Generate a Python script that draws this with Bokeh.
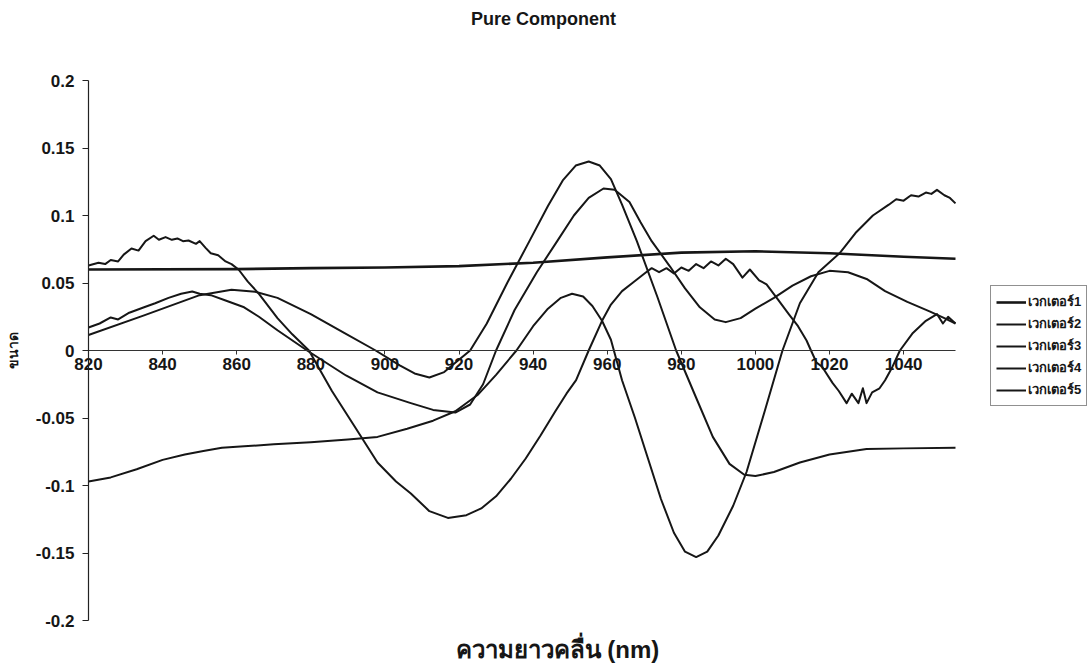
from bokeh.plotting import figure
from bokeh.models import FixedTicker, CustomJSTickFormatter, Label, Legend, LegendItem, Range1d
from bokeh.embed import file_html
from bokeh.resources import INLINE

title_text = "Pure Component"
x_title = "ความยาวคลื่น (nm)"
y_title = "ขนาด"
series_names = ["เวกเตอร์1", "เวกเตอร์2", "เวกเตอร์3", "เวกเตอร์4", "เวกเตอร์5"]
x_ticks = [820, 840, 860, 880, 900, 920, 940, 960, 980, 1000, 1020, 1040]
y_ticks = [-0.2, -0.15, -0.1, -0.05, 0.0, 0.05, 0.1, 0.15, 0.2]
x_min, x_max = 820, 1054
y_min, y_max = -0.2, 0.2

# (wavelength nm, value)
vec1 = [(820, 0.060), (860, 0.0603), (880, 0.061), (900, 0.0615), (920, 0.0625), (940, 0.065),
        (960, 0.069), (980, 0.0725), (1000, 0.0735), (1020, 0.072), (1040, 0.0695), (1054, 0.068)]

vec2 = [(820, 0.063), (822.7, 0.065), (824.5, 0.064), (826, 0.067), (828, 0.066), (829.5, 0.071),
        (831.6, 0.0755), (833.5, 0.074), (835.4, 0.081), (837.6, 0.085), (839, 0.082), (840.8, 0.084),
        (842.5, 0.082), (844, 0.083), (845.5, 0.081), (847, 0.0815), (849, 0.079), (850, 0.081),
        (851.6, 0.076), (853, 0.072), (855, 0.0705), (857, 0.066), (858.6, 0.064), (860.5, 0.060),
        (863, 0.051), (866, 0.042), (871, 0.024), (875, 0.012), (879.5, 0.0), (885.7, -0.030),
        (892, -0.057), (898, -0.083), (903, -0.097), (907, -0.106), (912, -0.119), (917, -0.124),
        (922, -0.122), (926, -0.117), (930, -0.108), (934, -0.095), (938, -0.080), (942, -0.063),
        (946, -0.045), (949, -0.032), (951.6, -0.022), (955, 0.0), (958.6, 0.022), (961, 0.034),
        (964, 0.044), (966.8, 0.050), (970.5, 0.058), (972, 0.061), (974, 0.058), (976, 0.061),
        (978, 0.057), (980, 0.0615), (982, 0.059), (984, 0.064), (986, 0.061), (988, 0.066),
        (990, 0.063), (992, 0.068), (994, 0.064), (996.5, 0.054), (998.5, 0.060), (1001, 0.052),
        (1003, 0.049), (1006, 0.038), (1009, 0.027), (1011.5, 0.018), (1013.8, 0.0074), (1015, 0.0),
        (1016.5, -0.009), (1018, -0.012), (1020.8, -0.024), (1022.5, -0.030), (1024.6, -0.039),
        (1026, -0.032), (1027.8, -0.039), (1029, -0.028), (1030, -0.039), (1031.5, -0.031),
        (1033.5, -0.028), (1035, -0.022), (1037, -0.012), (1039, 0.0), (1042.5, 0.013), (1046, 0.022),
        (1049, 0.027), (1050.6, 0.020), (1052, 0.025), (1054, 0.020)]

vec3 = [(820, 0.0115), (835, 0.026), (850, 0.041), (858.6, 0.045), (865, 0.0435), (871, 0.039),
        (880, 0.027), (889, 0.013), (897.5, 0.0), (904, -0.011), (908, -0.017), (912, -0.020),
        (916, -0.016), (919, -0.009), (923, 0.0), (927.5, 0.020), (933, 0.050), (939, 0.081),
        (944, 0.107), (948, 0.126), (951.5, 0.137), (955, 0.140), (958, 0.137), (961, 0.127),
        (964, 0.108), (968, 0.081), (973.5, 0.040), (978.6, 0.0), (984, -0.035), (988.5, -0.064),
        (993, -0.084), (997, -0.092), (1000, -0.093), (1005, -0.090), (1012, -0.083), (1020, -0.077),
        (1030, -0.073), (1040, -0.0725), (1054, -0.072)]

vec4 = [(820, 0.017), (823, 0.020), (826, 0.0245), (828, 0.023), (831, 0.028), (835, 0.032),
        (838, 0.035), (841.6, 0.039), (845, 0.042), (848, 0.0437), (850, 0.042), (853, 0.041),
        (857, 0.037), (862, 0.032), (866, 0.025), (871, 0.015), (879, 0.0), (889.5, -0.0185),
        (898, -0.031), (907, -0.039), (913, -0.044), (919, -0.046), (923, -0.040), (926.5, -0.025),
        (930, 0.0), (935, 0.030), (941, 0.058), (946.5, 0.081), (951, 0.100), (955, 0.113),
        (959, 0.120), (962, 0.119), (966, 0.110), (969, 0.095), (972, 0.081), (977, 0.062),
        (981, 0.046), (985, 0.032), (989, 0.023), (992, 0.021), (996, 0.024), (1000, 0.031),
        (1005, 0.039), (1010, 0.048), (1015, 0.055), (1020, 0.059), (1025, 0.058), (1030, 0.053),
        (1035, 0.044), (1041, 0.036), (1047, 0.029), (1051, 0.024), (1054, 0.020)]

vec5 = [(820, -0.097), (826, -0.094), (833, -0.088), (840, -0.081), (846, -0.077), (851, -0.0745),
        (856, -0.072), (862, -0.071), (870, -0.0695), (880, -0.068), (890, -0.066), (898, -0.064),
        (906, -0.058), (913, -0.052), (919, -0.045), (925, -0.033), (930, -0.018), (935.5, 0.0),
        (940, 0.018), (944, 0.031), (947.5, 0.039), (950.5, 0.042), (953.5, 0.040), (956, 0.033),
        (958.6, 0.022), (961, 0.008), (964, -0.022), (967.5, -0.050), (971, -0.080), (974.5, -0.110),
        (978, -0.135), (981, -0.149), (984, -0.153), (987, -0.149), (990, -0.137), (994, -0.115),
        (997.6, -0.090), (1002.5, -0.045), (1007.3, 0.0), (1012, 0.035), (1017, 0.058), (1022.7, 0.072),
        (1027, 0.087), (1031.7, 0.100), (1036, 0.108), (1038, 0.112), (1040, 0.111), (1042, 0.115),
        (1044, 0.114), (1046, 0.117), (1047.5, 0.116), (1049, 0.119), (1051, 0.115), (1052.5, 0.113),
        (1054, 0.109)]

all_series = [vec1, vec2, vec3, vec4, vec5]
widths = [2.6, 2.0, 2.0, 2.0, 2.0]

FONT = "Liberation Sans"
INK = "#161616"

W, H = 1091, 667
# pixel box of the plot area inside the page
PX_L, PX_R, PX_T, PX_B = 88, 955, 80, 620
sx = (PX_R - PX_L) / (x_max - x_min)
sy = (PX_B - PX_T) / (y_max - y_min)
xr = Range1d(x_min - PX_L / sx, x_max + (W - PX_R) / sx)
yr = Range1d(y_min - (H - PX_B) / sy, y_max + PX_T / sy)

p = figure(width=W, height=H, output_backend="svg", toolbar_location=None,
           x_range=xr, y_range=yr,
           min_border_left=0, min_border_right=0, min_border_top=0, min_border_bottom=0)
p.outline_line_color = None
p.xgrid.visible = False
p.ygrid.visible = False
p.background_fill_color = "white"
p.border_fill_color = "white"

renderers = []
for s, w in zip(all_series, widths):
    xs = [a for a, b in s]
    ys = [b for a, b in s]
    r = p.line(xs, ys, line_color=INK, line_width=w, line_join="round")
    renderers.append(r)

# x axis crossing at zero
xa = p.xaxis[0]
xa.fixed_location = 0
xa.bounds = (x_min, x_max)
xa.ticker = FixedTicker(ticks=x_ticks)
xa.axis_line_color = "#333333"
xa.axis_line_width = 1.2
xa.major_tick_in = 0
xa.major_tick_out = 4
xa.major_tick_line_color = "#333333"
xa.minor_tick_line_color = None
xa.major_label_standoff = 3
xa.major_label_text_font = FONT
xa.major_label_text_font_style = "bold"
xa.major_label_text_font_size = "17px"
xa.major_label_text_color = INK

ya = p.yaxis[0]
ya.fixed_location = x_min
ya.bounds = (y_min, y_max)
ya.ticker = FixedTicker(ticks=y_ticks)
ya.formatter = CustomJSTickFormatter(code="return tick.toFixed(2).replace(/0+$/, '').replace(/\\.$/, '');")
ya.axis_line_color = "#222222"
ya.axis_line_width = 1.2
ya.major_tick_in = 0
ya.major_tick_out = 6
ya.major_tick_line_color = "#222222"
ya.minor_tick_line_color = None
ya.major_label_standoff = 8
ya.major_label_text_font = FONT
ya.major_label_text_font_style = "bold"
ya.major_label_text_font_size = "17px"
ya.major_label_text_color = INK
ya.axis_label = y_title
ya.axis_label_text_font = FONT
ya.axis_label_text_font_style = "bold"
ya.axis_label_text_font_size = "14px"
ya.axis_label_text_color = INK
ya.axis_label_standoff = 12

p.add_layout(Label(x=543, y=H - 18, x_units="screen", y_units="screen", text=title_text,
                   text_align="center", text_baseline="middle",
                   text_font=FONT, text_font_style="bold", text_font_size="18px", text_color=INK))
p.add_layout(Label(x=557, y=H - 649, x_units="screen", y_units="screen", text=x_title,
                   text_align="center", text_baseline="middle",
                   text_font=FONT, text_font_style="bold", text_font_size="24px", text_color=INK))

legend = Legend(items=[LegendItem(label=n, renderers=[r]) for n, r in zip(series_names, renderers)],
                location=(990, H - 406), orientation="vertical")
legend.label_text_font = FONT
legend.label_text_font_style = "bold"
legend.label_text_font_size = "13px"
legend.label_text_color = INK
legend.glyph_width = 30
legend.glyph_height = 14
legend.label_height = 14
legend.label_standoff = 2
legend.spacing = 1
legend.padding = 5
legend.margin = 0
legend.border_line_color = "#222222"
legend.border_line_width = 1
legend.background_fill_color = "white"
legend.background_fill_alpha = 1
p.add_layout(legend)

open("out.html", "w").write(file_html(p, INLINE))
